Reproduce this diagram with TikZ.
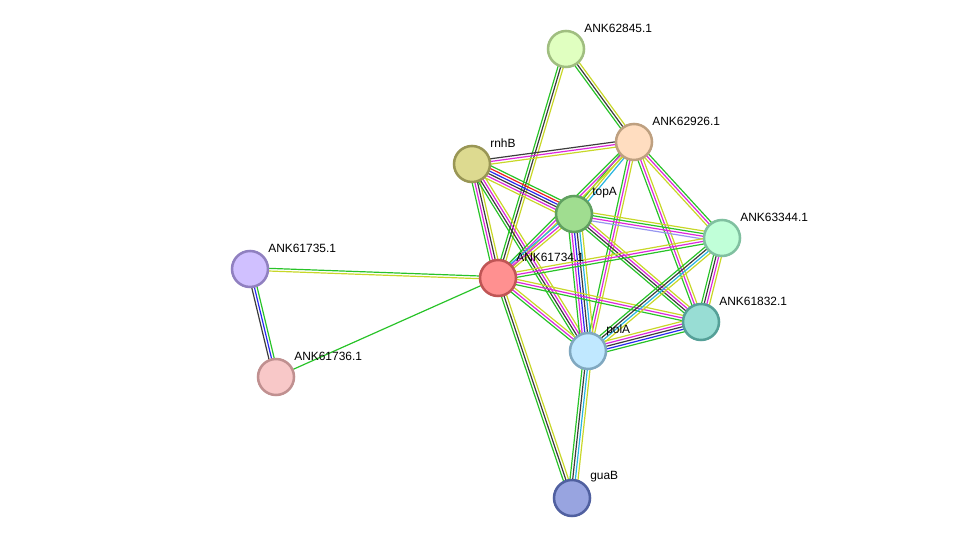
\documentclass[tikz,border=0pt]{standalone}
\usepackage{fontspec}
\setmainfont{Liberation Sans}
\usetikzlibrary{calc,backgrounds}

% evidence colours
\definecolor{gn}{RGB}{40,195,40}
\definecolor{bk}{RGB}{60,60,60}
\definecolor{yl}{RGB}{200,215,40}
\definecolor{mg}{RGB}{220,40,220}
\definecolor{bl}{RGB}{40,40,240}
\definecolor{rd}{RGB}{240,30,30}
\definecolor{cy}{RGB}{40,180,225}
\definecolor{hb}{RGB}{150,150,240}
% protein colours (fill / border)
\definecolor{fA}{RGB}{224,255,192}\definecolor{dA}{RGB}{160,190,128}
\definecolor{fB}{RGB}{255,221,192}\definecolor{dB}{RGB}{190,160,128}
\definecolor{fC}{RGB}{221,218,144}\definecolor{dC}{RGB}{153,150,85}
\definecolor{fD}{RGB}{160,221,144}\definecolor{dD}{RGB}{96,160,96}
\definecolor{fE}{RGB}{192,255,216}\definecolor{dE}{RGB}{128,192,160}
\definecolor{fF}{RGB}{208,192,255}\definecolor{dF}{RGB}{144,128,192}
\definecolor{fG}{RGB}{255,144,144}\definecolor{dG}{RGB}{192,85,85}
\definecolor{fH}{RGB}{152,221,212}\definecolor{dH}{RGB}{85,160,152}
\definecolor{fI}{RGB}{192,232,255}\definecolor{dI}{RGB}{128,168,192}
\definecolor{fJ}{RGB}{248,200,200}\definecolor{dJ}{RGB}{192,144,144}
\definecolor{fK}{RGB}{152,164,224}\definecolor{dK}{RGB}{80,96,160}

% parallel evidence lines between two proteins
\newcommand\ppilink[3]{%
  \foreach \col [count=\k] in {#3} {\global\let\nlines\k}%
  \foreach \col [count=\k] in {#3} {%
    \pgfmathsetmacro\off{(\k-(\nlines+1)/2)*1.9}%
    \draw[edge,\col] ($(#1)!\off pt!90:(#2)$) -- ($(#2)!\off pt!-90:(#1)$);}}

\begin{document}
\begin{tikzpicture}[x=0.25mm,y=-0.25mm,font=\fontsize{8.5}{10}\selectfont,
    prot/.style={circle,minimum size=9mm,inner sep=0pt,line width=1.8pt},
    lbl/.style={anchor=west,inner sep=0pt},
    edge/.style={line width=0.85pt}]
  \useasboundingbox (0,0) rectangle (976,544);
  % proteins: name/x/y/colour/label
  \foreach \n/\x/\y/\c/\t in {n62845/566/49/A/ANK62845.1, n62926/634/142/B/ANK62926.1,
      rnhB/472/164/C/rnhB, topA/574/214/D/topA, n63344/722/238/E/ANK63344.1,
      n61735/250/269/F/ANK61735.1, n61734/498/278/G/ANK61734.1,
      n61832/701/322/H/ANK61832.1, polA/588/351/I/polA,
      n61736/276/377/J/ANK61736.1, guaB/572/498/K/guaB} {
    \node[prot,fill=f\c,draw=d\c] (\n) at (\x,\y) {};
    \node[lbl] (\n-l) at (\x+18,\y-21) {\t};
  }
  % interactions
  \begin{pgfonlayer}{background}
    \ppilink{n62845}{n62926}{gn,bk,yl}
    \ppilink{n62845}{n61734}{gn,bk,yl}
    \ppilink{rnhB}{n62926}{yl,mg,bk}
    \ppilink{rnhB}{topA}{yl,mg,bk,bl,rd,gn}
    \ppilink{rnhB}{n61734}{gn,mg,bk,yl}
    \ppilink{rnhB}{polA}{gn,bk,mg,yl}
    \ppilink{n62926}{topA}{gn,yl,cy}
    \ppilink{n62926}{n61734}{gn,mg,yl}
    \ppilink{n62926}{polA}{gn,mg,yl}
    \ppilink{n62926}{n61832}{gn,mg,yl}
    \ppilink{n62926}{n63344}{yl,mg,gn}
    \ppilink{topA}{n63344}{hb,mg,gn,yl}
    \ppilink{topA}{n61734}{cy,mg,yl}
    \ppilink{topA}{polA}{gn,mg,bl,bk,cy,yl}
    \ppilink{topA}{n61832}{gn,bk,mg,yl}
    \ppilink{n61734}{n63344}{gn,mg,yl}
    \ppilink{n61734}{n61832}{gn,mg,yl}
    \ppilink{n61734}{polA}{gn,mg,yl}
    \ppilink{n61734}{guaB}{gn,bk,yl}
    \ppilink{n61734}{n61735}{gn,yl}
    \ppilink{n61734}{n61736}{gn}
    \ppilink{n61735}{n61736}{bk,bl,gn}
    \ppilink{n63344}{n61832}{gn,bk,mg,yl}
    \ppilink{n63344}{polA}{gn,bk,cy,yl}
    \ppilink{n61832}{polA}{yl,mg,bk,bl,gn}
    \ppilink{polA}{guaB}{gn,bk,cy,yl}
  \end{pgfonlayer}
\end{tikzpicture}
\end{document}
